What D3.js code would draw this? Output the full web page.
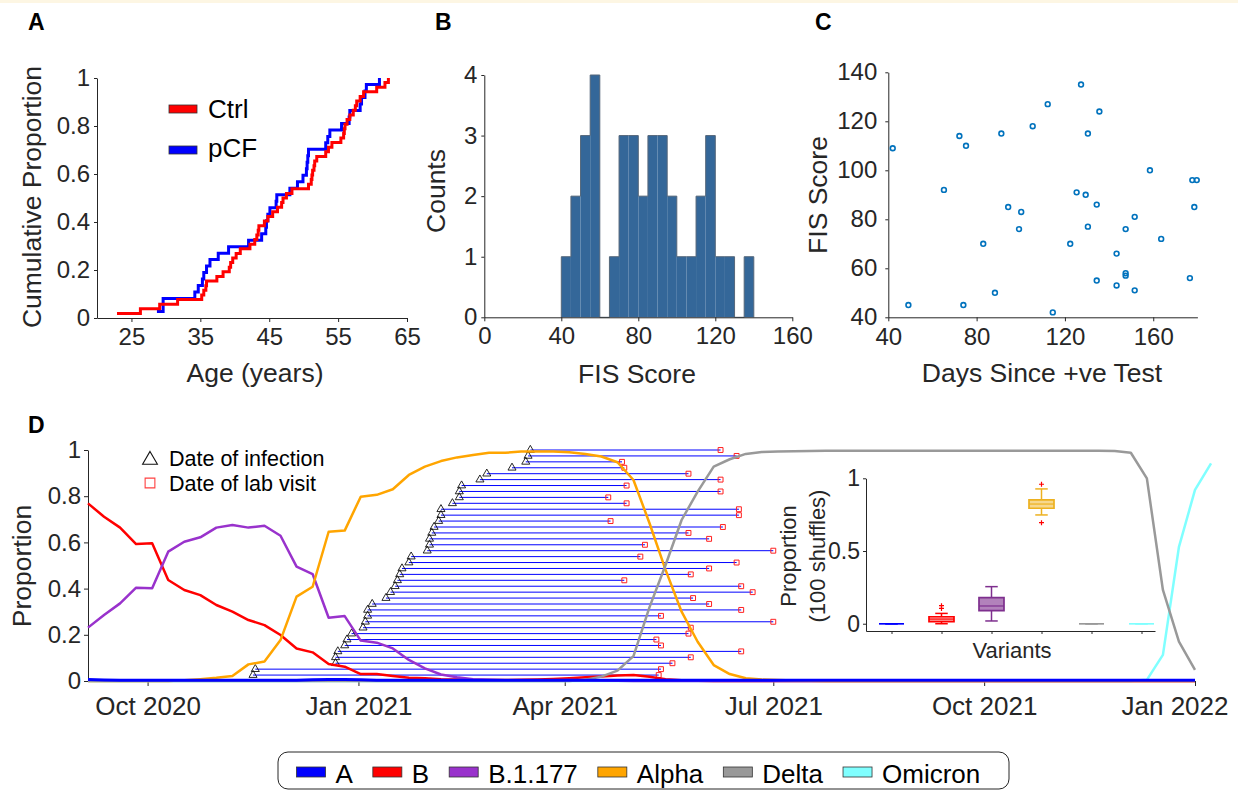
<!DOCTYPE html>
<html>
<head>
<meta charset="utf-8">
<script src="https://cdn.jsdelivr.net/npm/d3@7"></script>
<style>
  body { margin: 0; background: #fff; }
  svg text { font-family: "Liberation Sans", Arial, Helvetica, sans-serif; }
</style>
</head>
<body>
<svg id="chart" width="1238" height="790"></svg>
<script>
/* DATA */
// A: ages (years) of each participant, read off the ecdf steps
const ctrlAges = [22.9, 26.3, 29.1, 31.7, 35.2, 35.5, 35.8, 35.9, 37.4, 38.3, 39.2, 39.4, 39.7, 40.2,
  40.8, 42.2, 42.9, 43.2, 43.4, 43.5, 44.3, 44.8, 45.5, 46.2, 46.8, 47.0, 47.5, 48.3, 50.7, 51.1,
  51.2, 51.3, 51.5, 51.6, 51.9, 53.2, 53.6, 54.1, 55.4, 55.8, 55.9, 56.0, 56.3, 56.7, 57.2, 57.5,
  57.7, 58.2, 58.7, 60.6, 61.8, 62.3];
const pcfAges = [28.7, 29.6, 29.6, 34.2, 34.7, 35.3, 35.5, 35.9, 36.4, 37.6, 39.1, 42.0, 43.9, 44.5,
  44.6, 44.8, 45.1, 46.0, 46.1, 48.0, 49.1, 49.9, 50.4, 50.5, 50.6, 50.7, 53.2, 53.5, 53.8, 55.5,
  56.6, 56.7, 58.2, 58.4, 58.9, 59.1, 61.0];

// B: FIS score histogram
const fisBinEdges = [40, 45, 50, 55, 60, 65, 70, 75, 80, 85, 90, 95, 100, 105, 110, 115, 120, 125, 130, 135, 140];
const fisCounts = [1, 2, 3, 4, 0, 1, 3, 3, 2, 3, 3, 2, 1, 1, 2, 3, 1, 1, 0, 1];

// C: days since positive test vs FIS score
const daysSinceTest = [42.0, 49.1, 65.2, 72.2, 75.2, 74.0, 83.0, 88.3, 91.2, 94.3, 100.2, 99.2, 105.4,
  112.2, 114.5, 122.4, 127.3, 125.3, 129.4, 130.4, 130.4, 134.4, 135.6, 134.4, 143.4, 143.4, 147.5,
  147.5, 147.5, 151.6, 151.6, 158.5, 163.6, 176.6, 177.7, 179.7, 178.6];
const fisScore = [109, 45, 92, 114, 110, 45, 70, 50, 115, 85, 83, 76, 118, 127, 42, 70, 135, 91, 90,
  115, 77, 86, 124, 55, 66, 53, 76, 58, 57, 81, 51, 100, 72, 56, 96, 96, 85];

// D: weekly variant proportions, first week starting 5 Sep 2020
const firstWeek = "2020-09-05";
const propA = [0.006, 0.004, 0.003, 0.003, 0.003, 0.003, 0.003, 0.003, 0.003, 0.003,
  0.003, 0.003, 0.003, 0.003, 0.005, 0.007, 0.007, 0.005, 0.003, 0.003,
  0.003, 0.003, 0.003, 0.003, 0.003, 0.003, 0.003, 0.003, 0.003, 0.003,
  0.003, 0.003, 0.003, 0.003, 0.003, 0.003, 0.003, 0.003, 0.003, 0.003,
  0.003, 0.003, 0.003, 0.003, 0.003, 0.003, 0.003, 0.003, 0.003, 0.003,
  0.003, 0.003, 0.003, 0.003, 0.003, 0.003, 0.003, 0.003, 0.003, 0.003,
  0.003, 0.003, 0.003, 0.003, 0.003, 0.003, 0.003, 0.003, 0.003, 0.003];
const propB = [0.769, 0.711, 0.664, 0.593, 0.596, 0.437, 0.394, 0.372, 0.329, 0.300,
  0.264, 0.242, 0.199, 0.141, 0.124, 0.074, 0.062, 0.030, 0.030, 0.022,
  0.014, 0.012, 0.008, 0.006, 0.004, 0.004, 0.004, 0.005, 0.007, 0.009,
  0.012, 0.016, 0.019, 0.024, 0.026, 0.018, 0.008, 0.003, 0.001, 0,
  0, 0, 0, 0, 0, 0, 0, 0, 0, 0,
  0, 0, 0, 0, 0, 0, 0, 0, 0, 0,
  0, 0, 0, 0, 0, 0, 0, 0, 0, 0];
const propB1177 = [0.231, 0.286, 0.336, 0.404, 0.401, 0.560, 0.603, 0.622, 0.664, 0.675,
  0.664, 0.672, 0.629, 0.495, 0.463, 0.274, 0.281, 0.175, 0.166, 0.141,
  0.091, 0.055, 0.028, 0.016, 0.008, 0.005, 0.003, 0.002, 0.002, 0.003,
  0.004, 0.003, 0.002, 0.001, 0, 0, 0, 0, 0, 0,
  0, 0, 0, 0, 0, 0, 0, 0, 0, 0,
  0, 0, 0, 0, 0, 0, 0, 0, 0, 0,
  0, 0, 0, 0, 0, 0, 0, 0, 0, 0];
const propAlpha = [0, 0, 0, 0, 0, 0, 0.003, 0.008, 0.014, 0.022,
  0.072, 0.084, 0.177, 0.365, 0.408, 0.646, 0.651, 0.798, 0.806, 0.830,
  0.892, 0.928, 0.952, 0.968, 0.978, 0.988, 0.988, 0.993, 0.993, 0.993,
  0.990, 0.983, 0.972, 0.947, 0.870, 0.683, 0.481, 0.300, 0.170, 0.069,
  0.030, 0.012, 0.006, 0.004, 0.002, 0.001, 0, 0, 0, 0,
  0, 0, 0, 0, 0, 0, 0, 0, 0, 0,
  0, 0, 0, 0, 0, 0, 0, 0, 0, 0];
const propDelta = [0, 0, 0, 0, 0, 0, 0, 0, 0, 0,
  0, 0, 0, 0, 0, 0, 0, 0, 0, 0,
  0, 0, 0, 0, 0, 0, 0, 0, 0, 0,
  0, 0.005, 0.019, 0.045, 0.108, 0.320, 0.502, 0.697, 0.820, 0.928,
  0.960, 0.983, 0.991, 0.994, 0.995, 0.996, 0.997, 0.997, 0.997, 0.997,
  0.997, 0.997, 0.997, 0.997, 0.997, 0.997, 0.997, 0.997, 0.997, 0.997,
  0.997, 0.997, 0.997, 0.997, 0.996, 0.988, 0.877, 0.394, 0.170, 0.048];
const propOmicron = [0, 0, 0, 0, 0, 0, 0, 0, 0, 0,
  0, 0, 0, 0, 0, 0, 0, 0, 0, 0,
  0, 0, 0, 0, 0, 0, 0, 0, 0, 0,
  0, 0, 0, 0, 0, 0, 0, 0, 0, 0,
  0, 0, 0, 0, 0, 0, 0, 0, 0, 0,
  0, 0, 0, 0, 0, 0, 0, 0, 0, 0,
  0, 0, 0, 0, 0, 0, 0.005, 0.113, 0.581, 0.827,
  0.942];

// D: one row per participant (bottom to top)
const infectionDates = ["2020-11-16", "2020-11-17", "2020-12-22", "2020-12-22", "2020-12-23", "2020-12-26",
  "2020-12-27", "2020-12-29", "2021-01-03", "2021-01-04", "2021-01-05", "2021-01-05", "2021-01-07",
  "2021-01-13", "2021-01-15", "2021-01-17", "2021-01-18", "2021-01-19", "2021-01-20", "2021-01-23",
  "2021-01-24", "2021-01-31", "2021-02-01", "2021-02-01", "2021-02-02", "2021-02-03", "2021-02-05",
  "2021-02-06", "2021-02-06", "2021-02-11", "2021-02-14", "2021-02-14", "2021-02-15", "2021-02-23",
  "2021-02-26", "2021-03-09", "2021-03-15", "2021-03-16", "2021-03-17"];
const labVisitDates = ["2021-05-12", "2021-05-13", "2021-05-18", "2021-05-26", "2021-06-17", "2021-05-13",
  "2021-05-11", "2021-05-25", "2021-05-26", "2021-07-01", "2021-05-13", "2021-06-17", "2021-06-03",
  "2021-05-27", "2021-06-22", "2021-06-17", "2021-04-27", "2021-05-26", "2021-06-03", "2021-06-15",
  "2021-05-04", "2021-07-01", "2021-05-06", "2021-06-03", "2021-05-25", "2021-06-09", "2021-04-21",
  "2021-06-16", "2021-06-16", "2021-04-28", "2021-04-20", "2021-06-08", "2021-04-28", "2021-06-08",
  "2021-05-25", "2021-04-27", "2021-04-26", "2021-06-15", "2021-06-08"];

// inset: proportion over 100 shuffles, box stats per variant
const boxLo = [0, 0, 0.019, 0.748, 0, 0];
const boxQ1 = [0, 0.014, 0.090, 0.794, 0, 0];
const boxMed = [0, 0.032, 0.122, 0.823, 0, 0];
const boxQ3 = [0, 0.048, 0.179, 0.851, 0, 0];
const boxHi = [0, 0.071, 0.255, 0.927, 0, 0];
const boxOutliers = [[], [0.105, 0.124], [], [0.959, 0.695], [], []];

const variantNames = ["A", "B", "B.1.177", "Alpha", "Delta", "Omicron"];
const variantColors = ["#0000ff", "#ff0000", "#9932cc", "#ffa500", "#999999", "#80ffff"];
const boxColors = ["#0000ff", "#ff0000", "#7e2f8e", "#edb120", "#999999", "#80ffff"];
const boxFillOpacity = [0.3, 0.3, 0.6, 0.5, 0.3, 0.3];

const INK = "#262626";
const parseDate = d3.timeParse("%Y-%m-%d");

const svg = d3.select("#chart");
svg.append("rect").attr("width", 1238).attr("height", 790).attr("fill", "#fff");
svg.append("rect").attr("width", 1238).attr("height", 3).attr("fill", "#fdf6e3");

function styleAxis(g, size) {
  g.attr("font-family", null).attr("font-size", size);
  g.select(".domain").attr("stroke", INK);
  g.selectAll(".tick line").attr("stroke", INK);
  g.selectAll(".tick text").attr("fill", INK);
}

function panelLetter(x, y, t) {
  svg.append("text").attr("x", x).attr("y", y).attr("font-size", 23)
    .attr("font-weight", "bold").attr("fill", "#000").text(t);
}

function yLabel(x, y, t, size) {
  svg.append("text").attr("transform", `translate(${x},${y}) rotate(-90)`)
    .attr("text-anchor", "middle").attr("font-size", size).attr("fill", INK).text(t);
}

function xLabel(x, y, t, size) {
  svg.append("text").attr("x", x).attr("y", y).attr("text-anchor", "middle")
    .attr("font-size", size).attr("fill", INK).text(t);
}

const fmt = d3.format("~g");

/* PANEL A */
const xA = d3.scaleLinear().domain([20, 65]).range([97, 407]);
const yA = d3.scaleLinear().domain([0, 1]).range([318, 78]);

svg.append("g").attr("transform", "translate(0,318)")
  .call(d3.axisBottom(xA).tickValues([25, 35, 45, 55, 65]).tickSize(4).tickPadding(6).tickSizeOuter(0))
  .call(styleAxis, 24);
svg.append("g").attr("transform", "translate(97,0)")
  .call(d3.axisLeft(yA).tickValues([0, 0.2, 0.4, 0.6, 0.8, 1]).tickFormat(fmt).tickSize(3).tickPadding(4).tickSizeOuter(0))
  .call(styleAxis, 24);

const ecdfLine = d3.line()
  .x(d => xA(d[0]))
  .y(d => yA(d[1]))
  .curve(d3.curveStepAfter);

const ecdf = ages => ages.map((a, i) => [a, (i + 1) / ages.length]);

svg.append("path").datum(ecdf(pcfAges)).attr("d", ecdfLine)
  .attr("fill", "none").attr("stroke", "#0000ff").attr("stroke-width", 3);
svg.append("path").datum(ecdf(ctrlAges)).attr("d", ecdfLine)
  .attr("fill", "none").attr("stroke", "#ff0000").attr("stroke-width", 3);

[["Ctrl", "#ff0000", 105, 118], ["pCF", "#0000ff", 146, 157]].forEach(d => {
  svg.append("rect").attr("x", 169).attr("y", d[2]).attr("width", 28).attr("height", 8)
    .attr("fill", d[1]).attr("stroke", "#333").attr("stroke-width", 0.8);
  svg.append("text").attr("x", 208).attr("y", d[3]).attr("font-size", 26).attr("fill", "#000").text(d[0]);
});

panelLetter(28, 30, "A");
yLabel(41, 197, "Cumulative Proportion", 26.5);
xLabel(255, 382, "Age (years)", 26.5);

/* PANEL B */
const xB = d3.scaleLinear().domain([0, 160]).range([484.3, 792.3]);
const yB = d3.scaleLinear().domain([0, 4]).range([317.3, 75]);

svg.append("g").selectAll("rect")
  .data(fisCounts)
  .join("rect")
  .attr("x", (d, i) => xB(fisBinEdges[i]))
  .attr("width", (d, i) => xB(fisBinEdges[i + 1]) - xB(fisBinEdges[i]))
  .attr("y", d => yB(d))
  .attr("height", d => yB(0) - yB(d))
  .attr("fill", "#346799");

// outline of the bars
const histOutline = [[fisBinEdges[0], 0]]
  .concat(fisCounts.map((c, i) => [fisBinEdges[i], c]))
  .concat([[fisBinEdges[fisBinEdges.length - 1], 0]]);
svg.append("path").datum(histOutline)
  .attr("d", d3.line().x(d => xB(d[0])).y(d => yB(d[1])).curve(d3.curveStepAfter))
  .attr("fill", "none").attr("stroke", "#55677a").attr("stroke-width", 1);

svg.append("g").attr("transform", "translate(0,317.3)")
  .call(d3.axisBottom(xB).tickValues([0, 40, 80, 120, 160]).tickFormat(fmt).tickSize(4).tickPadding(6).tickSizeOuter(0))
  .call(styleAxis, 24);
svg.append("g").attr("transform", "translate(484.3,0)")
  .call(d3.axisLeft(yB).tickValues([0, 1, 2, 3, 4]).tickFormat(fmt).tickSize(3).tickPadding(4).tickSizeOuter(0))
  .call(styleAxis, 24);

panelLetter(435, 30, "B");
yLabel(445, 191, "Counts", 26.5);
xLabel(637, 383, "FIS Score", 26.5);

/* PANEL C */
const xC = d3.scaleLinear().domain([40, 180]).range([888.3, 1197.4]);
const yC = d3.scaleLinear().domain([40, 140]).range([317.3, 72.3]);

svg.append("g").attr("transform", "translate(0,317.3)")
  .call(d3.axisBottom(xC).tickValues([40, 80, 120, 160]).tickFormat(fmt).tickSize(4).tickPadding(7).tickSizeOuter(0))
  .call(styleAxis, 24);
svg.append("g").attr("transform", "translate(888.3,0)")
  .call(d3.axisLeft(yC).tickValues([40, 60, 80, 100, 120, 140]).tickFormat(fmt).tickSize(3).tickPadding(8).tickSizeOuter(0))
  .call(styleAxis, 24);

svg.append("g").selectAll("circle")
  .data(daysSinceTest)
  .join("circle")
  .attr("cx", d => xC(d))
  .attr("cy", (d, i) => yC(fisScore[i]))
  .attr("r", 2.4)
  .attr("fill", "none")
  .attr("stroke", "#0072bd")
  .attr("stroke-width", 1.6);

panelLetter(815, 30, "C");
yLabel(827, 195, "FIS Score", 26.5);
xLabel(1042, 382, "Days Since +ve Test", 26.5);

/* PANEL D */
const xD = d3.scaleTime().domain([parseDate("2020-09-05"), parseDate("2022-01-01")]).range([88, 1195]);
const yD = d3.scaleLinear().domain([0, 1]).range([681, 450]);

const week0 = parseDate(firstWeek);
const weekDate = i => d3.timeDay.offset(week0, 7 * i);

svg.append("g").attr("transform", "translate(88,0)")
  .call(d3.axisLeft(yD).tickValues([0, 0.2, 0.4, 0.6, 0.8, 1]).tickFormat(fmt).tickSize(4).tickPadding(3).tickSizeOuter(0))
  .call(styleAxis, 24);
const xAxisD = svg.append("g").attr("transform", "translate(0,681)")
  .call(d3.axisBottom(xD)
    .tickValues(["2020-10-01", "2021-01-01", "2021-04-01", "2021-07-01", "2021-10-01", "2022-01-01"].map(parseDate))
    .tickFormat(d3.timeFormat("%b %Y")).tickSize(5).tickPadding(11).tickSizeOuter(0))
  .call(styleAxis, 26);
// last label is pulled in so it stays inside the figure
xAxisD.selectAll(".tick text").filter((d, i, n) => i === n.length - 1)
  .attr("text-anchor", "end").attr("x", 33);

// infection -> lab visit segments
const nPart = infectionDates.length;
const rows = infectionDates.map((d, i) => ({
  inf: parseDate(d),
  lab: parseDate(labVisitDates[i]),
  p: (i + 1) / nPart
}));

svg.append("g").selectAll("line")
  .data(rows)
  .join("line")
  .attr("x1", d => xD(d.inf))
  .attr("x2", d => xD(d.lab))
  .attr("y1", d => yD(d.p))
  .attr("y2", d => yD(d.p))
  .attr("stroke", "#0000ff")
  .attr("stroke-width", 1);

svg.append("g").selectAll("path")
  .data(rows)
  .join("path")
  .attr("transform", d => `translate(${xD(d.inf)},${yD(d.p)})`)
  .attr("d", d3.symbol(d3.symbolTriangle, 28))
  .attr("fill", "none").attr("stroke", "#111").attr("stroke-width", 0.9);

svg.append("g").selectAll("path")
  .data(rows)
  .join("path")
  .attr("transform", d => `translate(${xD(d.lab)},${yD(d.p)})`)
  .attr("d", d3.symbol(d3.symbolSquare, 24))
  .attr("fill", "none").attr("stroke", "#ff2020").attr("stroke-width", 1);

// variant lines, omicron first so A sits on top along zero
const variantSeries = [
  { name: "Omicron", values: propOmicron, color: variantColors[5], w: 2.5 },
  { name: "B", values: propB, color: variantColors[1], w: 2.5 },
  { name: "B.1.177", values: propB1177, color: variantColors[2], w: 2.5 },
  { name: "Alpha", values: propAlpha, color: variantColors[3], w: 2.5 },
  { name: "Delta", values: propDelta, color: variantColors[4], w: 2.5 },
  { name: "A", values: propA, color: variantColors[0], w: 3 }
];

const propLine = d3.line()
  .x((d, i) => xD(weekDate(i)))
  .y(d => yD(d));

svg.append("g").selectAll("path")
  .data(variantSeries)
  .join("path")
  .attr("d", d => propLine(d.values))
  .attr("fill", "none")
  .attr("stroke", d => d.color)
  .attr("stroke-width", d => d.w)
  .attr("stroke-linejoin", "round");

// marker legend
svg.append("path").attr("transform", "translate(150,460)")
  .attr("d", d3.symbol(d3.symbolTriangle, 95))
  .attr("fill", "none").attr("stroke", "#111").attr("stroke-width", 1.1);
svg.append("text").attr("x", 169).attr("y", 466).attr("font-size", 21.5).attr("fill", "#000").text("Date of infection");
svg.append("path").attr("transform", "translate(150,483)")
  .attr("d", d3.symbol(d3.symbolSquare, 95))
  .attr("fill", "none").attr("stroke", "#ff4040").attr("stroke-width", 1.1);
svg.append("text").attr("x", 169).attr("y", 491).attr("font-size", 21.5).attr("fill", "#000").text("Date of lab visit");

panelLetter(28, 433, "D");
yLabel(31, 566, "Proportion", 26.5);

/* INSET */
const xI = d3.scaleLinear().domain([0.49, 6.27]).range([866, 1155]);
const yI = d3.scaleLinear().domain([-0.05, 1]).range([631, 478.3]);

svg.append("g").attr("transform", "translate(0,631)")
  .call(d3.axisBottom(xI).tickValues([1, 2, 3, 4, 5, 6]).tickFormat(() => "").tickSize(3).tickSizeOuter(0))
  .call(styleAxis, 22);
svg.append("g").attr("transform", "translate(866,0)")
  .call(d3.axisLeft(yI).tickValues([0, 0.5, 1]).tickFormat(fmt).tickSize(3).tickPadding(3).tickSizeOuter(0))
  .call(styleAxis, 23);

const boxW = 0.25; // half width in category units
const boxes = svg.append("g");
variantNames.forEach((name, i) => {
  const cx = i + 1;
  const col = boxColors[i];
  const g = boxes.append("g");
  // whiskers
  g.append("line").attr("x1", xI(cx)).attr("x2", xI(cx)).attr("y1", yI(boxLo[i])).attr("y2", yI(boxQ1[i]))
    .attr("stroke", col).attr("stroke-width", 1.5);
  g.append("line").attr("x1", xI(cx)).attr("x2", xI(cx)).attr("y1", yI(boxQ3[i])).attr("y2", yI(boxHi[i]))
    .attr("stroke", col).attr("stroke-width", 1.5);
  [boxLo[i], boxHi[i]].forEach(v => {
    g.append("line").attr("x1", xI(cx - boxW / 2)).attr("x2", xI(cx + boxW / 2))
      .attr("y1", yI(v)).attr("y2", yI(v)).attr("stroke", col).attr("stroke-width", 1.5);
  });
  // box
  const x0 = xI(cx - boxW), x1 = xI(cx + boxW);
  g.append("path")
    .attr("d", `M${x0},${yI(boxQ1[i])}H${x1}V${yI(boxQ3[i])}H${x0}Z`)
    .attr("fill", col).attr("fill-opacity", boxFillOpacity[i])
    .attr("stroke", col).attr("stroke-width", 1.7);
  g.append("line").attr("x1", x0).attr("x2", x1).attr("y1", yI(boxMed[i])).attr("y2", yI(boxMed[i]))
    .attr("stroke", col).attr("stroke-width", 1.2);
  // outliers
  boxOutliers[i].forEach(v => {
    g.append("path").attr("transform", `translate(${xI(cx)},${yI(v)})`)
      .attr("d", "M-2.5,0H2.5M0,-2.5V2.5")
      .attr("stroke", "#ff0000").attr("stroke-width", 1.2);
  });
});

svg.append("text").attr("transform", "translate(796,556) rotate(-90)").attr("text-anchor", "middle")
  .attr("font-size", 22).attr("fill", INK).text("Proportion");
svg.append("text").attr("transform", "translate(825,556) rotate(-90)").attr("text-anchor", "middle")
  .attr("font-size", 22).attr("fill", INK).text("(100 shuffles)");
xLabel(1012, 658, "Variants", 22);

/* BOTTOM LEGEND */
const legend = svg.append("g");
legend.append("rect").attr("x", 278).attr("y", 752).attr("width", 731).attr("height", 37).attr("rx", 10)
  .attr("fill", "#fff").attr("stroke", INK).attr("stroke-width", 1);
let lx = 296.5;
variantNames.forEach((name, i) => {
  legend.append("rect").attr("x", lx).attr("y", 767).attr("width", 29).attr("height", 10)
    .attr("fill", variantColors[i]).attr("stroke", "#333").attr("stroke-width", 0.8);
  const t = legend.append("text").attr("x", lx + 39).attr("y", 783).attr("font-size", 26)
    .attr("fill", "#000").text(name);
  lx += 39 + t.node().getComputedTextLength() + 20;
});
</script>
</body>
</html>
